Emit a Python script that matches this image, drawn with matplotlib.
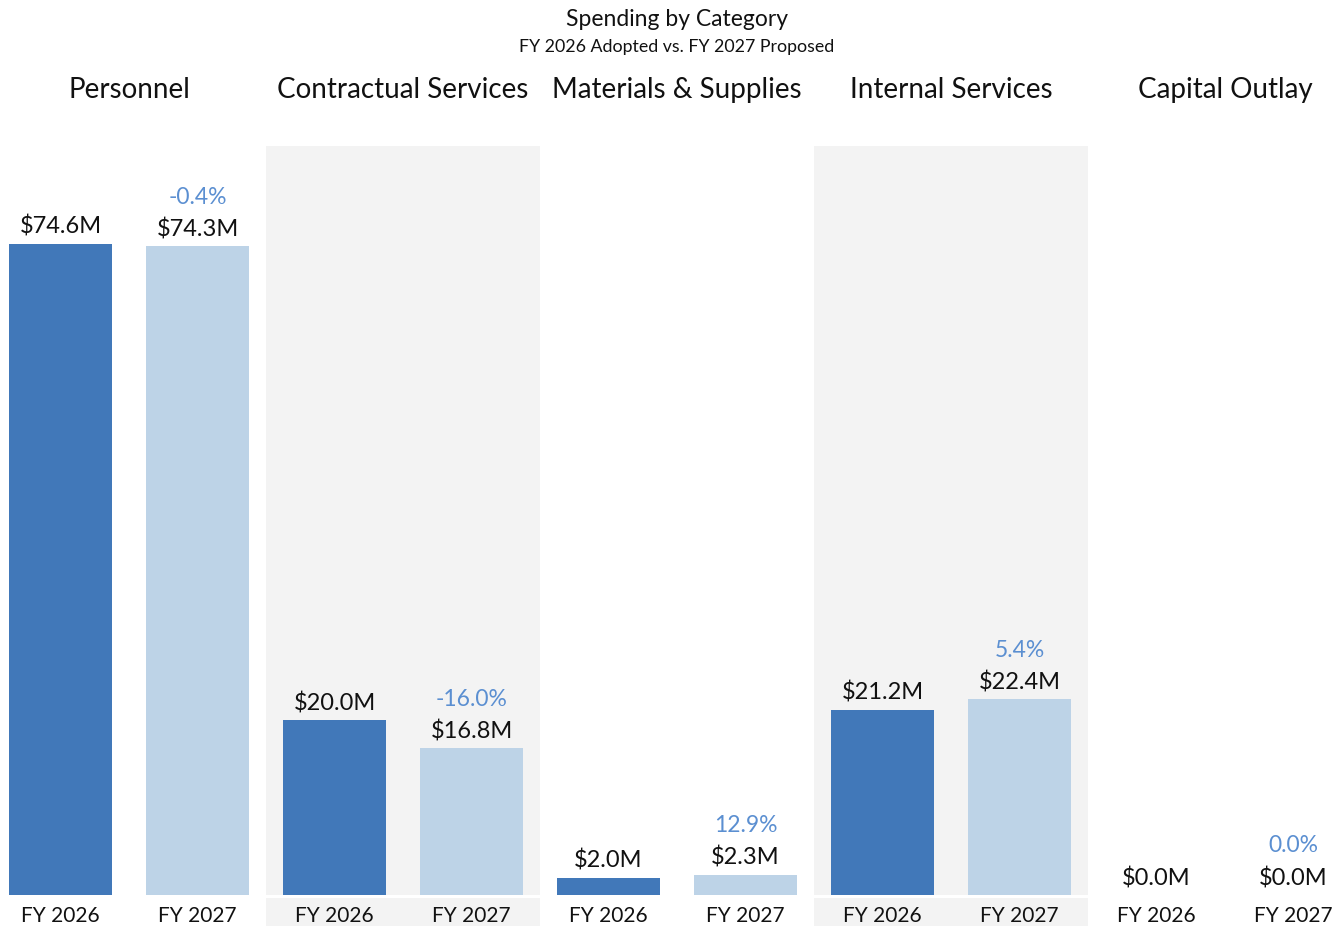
import matplotlib
matplotlib.use("Agg")
import matplotlib.pyplot as plt
from matplotlib.patches import Rectangle
import matplotlib.transforms as mtransforms

plt.rcParams['font.family'] = ['Lato', 'DejaVu Sans']

categories = ["Personnel", "Contractual Services", "Materials & Supplies",
              "Internal Services", "Capital Outlay"]
years = ["FY 2026", "FY 2027"]
fy2026 = [74.6, 20.0, 2.0, 21.2, 0.0]
fy2027 = [74.3, 16.8, 2.3, 22.4, 0.0]
pct_change = ["-0.4%", "-16.0%", "12.9%", "5.4%", "0.0%"]
shaded = [False, True, False, True, False]

DARK = "#4178B9"
LIGHT = "#BDD3E7"
PCT = "#5B8FD1"
SHADE = "#F3F3F3"
TXT = "#111111"

W, H = 1342, 926
fig = plt.figure(figsize=(W / 100, H / 100), dpi=100)

base_px, top_px = 895, 146
ax = fig.add_axes([0, (H - base_px) / H, 1, (base_px - top_px) / H])
x0 = 8 / 274
ax.set_xlim(x0, x0 + W / 274)
ax.set_ylim(0, 85.8)
ax.axis("off")

bar_w = 103 / 274
offsets = [0.25, 0.75]

blend = mtransforms.blended_transform_factory(ax.transData, ax.transAxes)
h_ax = base_px - top_px
for i, sh in enumerate(shaded):
    if sh:
        # panel background plus the strip behind the year labels
        ax.add_patch(Rectangle((i, 0), 1, 1, transform=blend, color=SHADE,
                               zorder=0, lw=0))
        ax.add_patch(Rectangle((i, -31 / h_ax), 1, 28 / h_ax, transform=blend,
                               color=SHADE, zorder=0, lw=0, clip_on=False))

for i in range(len(categories)):
    for j, (vals, col) in enumerate(((fy2026, DARK), (fy2027, LIGHT))):
        xc = i + offsets[j]
        v = vals[i]
        ax.bar(xc, v, width=bar_w, color=col, zorder=2)
        ax.annotate(f"${v:.1f}M", (xc, v), xytext=(0, 17), textcoords="offset pixels",
                    ha="center", va="center", fontsize=17, color=TXT)
        ax.annotate(years[j], (xc, 0), xytext=(0, -21), textcoords="offset pixels",
                    ha="center", va="center", fontsize=15, color=TXT,
                    annotation_clip=False)
        if j == 1:
            ax.annotate(pct_change[i], (xc, v), xytext=(0, 49), textcoords="offset pixels",
                        ha="center", va="center", fontsize=16.5, color=PCT)
    ax.text(i + 0.5, (base_px - 90) / h_ax, categories[i], transform=blend,
            ha="center", va="center", fontsize=20, color=TXT, clip_on=False)

fig.text(677 / W, 1 - 19.5 / H, "Spending by Category", ha="center", va="center",
         fontsize=16.5, color=TXT)
fig.text(677 / W, 1 - 47 / H, "FY 2026 Adopted vs. FY 2027 Proposed", ha="center",
         va="center", fontsize=12.8, color=TXT)

fig.savefig("out.png", dpi=100)
